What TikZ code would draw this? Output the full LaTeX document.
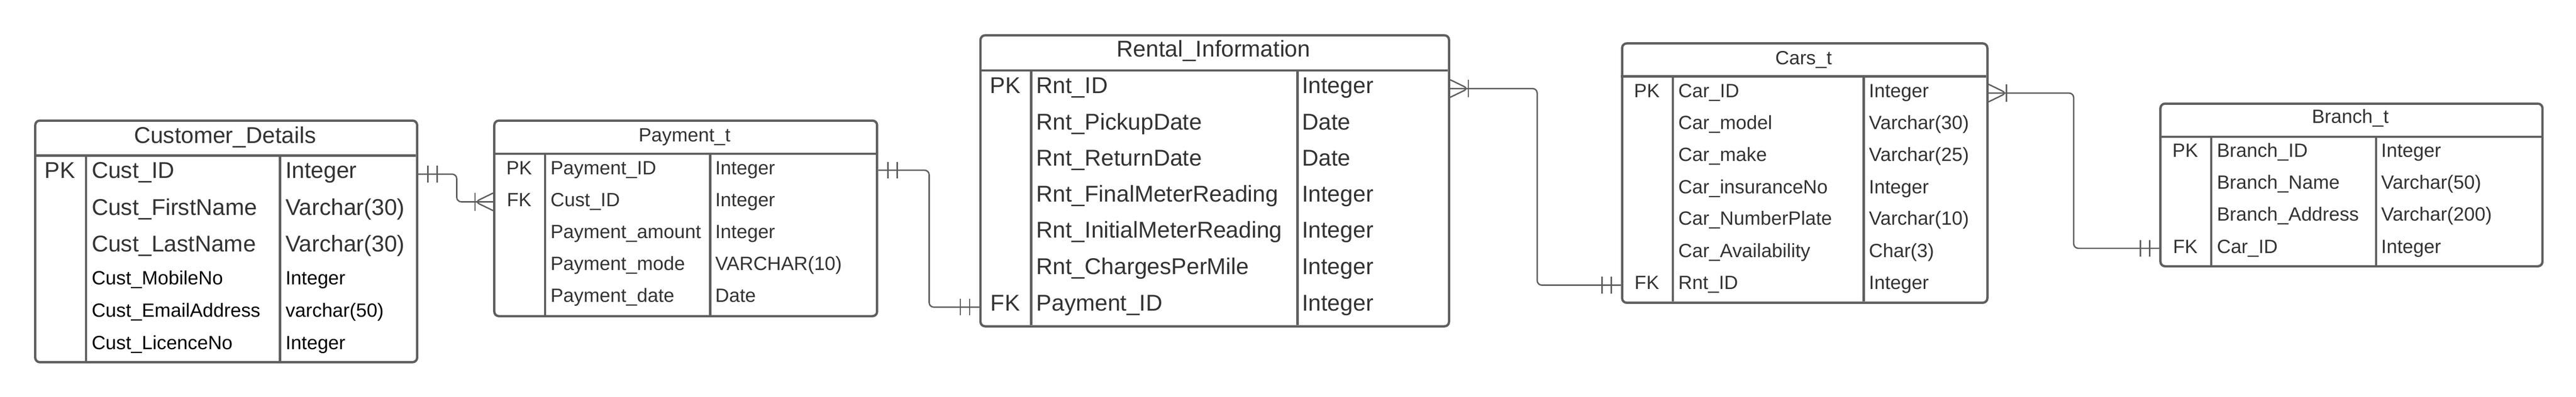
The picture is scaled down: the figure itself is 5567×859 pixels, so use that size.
\documentclass[tikz,border=0pt]{standalone}
\usepackage{fontspec}
\setmainfont{Liberation Sans}
\usetikzlibrary{calc}
\definecolor{ln}{HTML}{5E5E5E}
\definecolor{tx}{HTML}{333333}
\newcommand\crowfootIn[2]{% #1 coord, #2 direction (+1: box to the right of coord, -1: box to the left)
  \draw[conn] ($(#1)+(0,-19)$) -- ($(#1)+(#2*-39,0)$) -- ($(#1)+(0,19)$);
  \draw[conn] ($(#1)+(#2*-39,-19)$) -- ($(#1)+(#2*-39,19)$);}
\newcommand\twobars[2]{%
  \draw[conn] ($(#1)+(#2*-21,-18)$) -- ($(#1)+(#2*-21,18)$);
  \draw[conn] ($(#1)+(#2*-41,-18)$) -- ($(#1)+(#2*-41,18)$);}
\begin{document}
\begin{tikzpicture}[x=1pt,y=-1pt,
  tbl/.style={draw=ln,line width=5pt,rounded corners=10pt,fill=white,inner sep=0pt,anchor=north west},
  sep/.style={draw=ln,line width=5pt},
  conn/.style={draw=ln,line width=3pt,rounded corners=10pt},
  big/.style={font=\fontsize{49.5}{50}\selectfont,text=tx,inner sep=0pt},
  small/.style={font=\fontsize{41.5}{42}\selectfont,text=tx,inner sep=0pt},
  fld/.style={anchor=base west},
  ttl/.style={anchor=base},
  key/.style={anchor=base}]
\useasboundingbox (0,0) rectangle (5567,859);
\fill[white] (0,0) rectangle (5567,859);

% ---------------- Customer_Details
\node[tbl,minimum width=825.4pt,minimum height=523.1pt] (cust) at (73.6,258.6) {};
\draw[sep] (73.6,337) -- (899,337);
\draw[sep] (186,337) -- (186,781.7);
\draw[sep] (605,337) -- (605,781.7);
\node[big,ttl] (custT) at (486.3,309.6) {Customer\_Details};
\node[big,key] (custK1) at (129.8,386) {PK};
\node[big,fld] (custF1) at (198,386) {Cust\_ID};
\node[big,fld] (custT1) at (617,386) {Integer};
\node[big,fld] (custF2) at (198,465.6) {Cust\_FirstName};
\node[big,fld] (custT2) at (617,465.6) {Varchar(30)};
\node[big,fld] (custF3) at (198,545) {Cust\_LastName};
\node[big,fld] (custT3) at (617,545) {Varchar(30)};
\node[small,fld,text=black] (custF4) at (198,616) {Cust\_MobileNo};
\node[small,fld,text=black] (custT4) at (617,616) {Integer};
\node[small,fld,text=black] (custF5) at (198,686) {Cust\_EmailAddress};
\node[small,fld,text=black] (custT5) at (617,686) {varchar(50)};
\node[small,fld,text=black] (custF6) at (198,756) {Cust\_LicenceNo};
\node[small,fld,text=black] (custT6) at (617,756) {Integer};

% ---------------- Payment_t
\node[tbl,minimum width=827.3pt,minimum height=423.4pt] (pay) at (1065.7,258.6) {};
\draw[sep] (1065.7,333) -- (1893,333);
\draw[sep] (1178,333) -- (1178,682);
\draw[sep] (1534.7,333) -- (1534.7,682);
\node[small,ttl] (payT) at (1479.3,306.8) {Payment\_t};
\node[small,key] (payK1) at (1121.9,378) {PK};
\node[small,key] (payK2) at (1121.9,446.5) {FK};
\node[small,fld] (payF1) at (1189.6,378) {Payment\_ID};
\node[small,fld] (payT1) at (1545.6,378) {Integer};
\node[small,fld] (payF2) at (1189.6,446.5) {Cust\_ID};
\node[small,fld] (payT2) at (1545.6,446.5) {Integer};
\node[small,fld] (payF3) at (1189.6,516) {Payment\_amount};
\node[small,fld] (payT3) at (1545.6,516) {Integer};
\node[small,fld] (payF4) at (1189.6,585) {Payment\_mode};
\node[small,fld] (payT4) at (1545.6,585) {VARCHAR(10)};
\node[small,fld] (payF5) at (1189.6,654.6) {Payment\_date};
\node[small,fld] (payT5) at (1545.6,654.6) {Date};

% ---------------- Rental_Information
\node[tbl,minimum width=1012.6pt,minimum height=630pt] (rnt) at (2116.4,74) {};
\draw[sep] (2116.4,152.3) -- (3129,152.3);
\draw[sep] (2228.7,152.3) -- (2228.7,704);
\draw[sep] (2804,152.3) -- (2804,704);
\node[big,ttl] (rntT) at (2622.7,123) {Rental\_Information};
\node[big,key] (rntK1) at (2172.5,201.6) {PK};
\node[big,key] (rntK2) at (2172.5,672.7) {FK};
\node[big,fld] (rntF1) at (2239.7,201.6) {Rnt\_ID};
\node[big,fld] (rntT1) at (2813.8,201.6) {Integer};
\node[big,fld] (rntF2) at (2239.7,281) {Rnt\_PickupDate};
\node[big,fld] (rntT2) at (2813.8,281) {Date};
\node[big,fld] (rntF3) at (2239.7,358.8) {Rnt\_ReturnDate};
\node[big,fld] (rntT3) at (2813.8,358.8) {Date};
\node[big,fld] (rntF4) at (2239.7,436.6) {Rnt\_FinalMeterReading};
\node[big,fld] (rntT4) at (2813.8,436.6) {Integer};
\node[big,fld] (rntF5) at (2239.7,515) {Rnt\_InitialMeterReading};
\node[big,fld] (rntT5) at (2813.8,515) {Integer};
\node[big,fld] (rntF6) at (2239.7,594.4) {Rnt\_ChargesPerMile};
\node[big,fld] (rntT6) at (2813.8,594.4) {Integer};
\node[big,fld] (rntF7) at (2239.7,672.7) {Payment\_ID};
\node[big,fld] (rntT7) at (2813.8,672.7) {Integer};

% ---------------- Cars_t
\node[tbl,minimum width=789.4pt,minimum height=561.5pt] (cars) at (3503,91.5) {};
\draw[sep] (3503,165.4) -- (4292.4,165.4);
\draw[sep] (3615,165.4) -- (3615,653);
\draw[sep] (4027.8,165.4) -- (4027.8,653);
\node[small,ttl] (carsT) at (3897.7,139.7) {Cars\_t};
\node[small,key] (carsK1) at (3559,211) {PK};
\node[small,key] (carsK2) at (3559,626) {FK};
\node[small,fld] (carsF1) at (3626.8,211) {Car\_ID};
\node[small,fld] (carsT1) at (4038.8,211) {Integer};
\node[small,fld] (carsF2) at (3626.8,280.5) {Car\_model};
\node[small,fld] (carsT2) at (4038.8,280.5) {Varchar(30)};
\node[small,fld] (carsF3) at (3626.8,349) {Car\_make};
\node[small,fld] (carsT3) at (4038.8,349) {Varchar(25)};
\node[small,fld] (carsF4) at (3626.8,419) {Car\_insuranceNo};
\node[small,fld] (carsT4) at (4038.8,419) {Integer};
\node[small,fld] (carsF5) at (3626.8,487.6) {Car\_NumberPlate};
\node[small,fld] (carsT5) at (4038.8,487.6) {Varchar(10)};
\node[small,fld] (carsF6) at (3626.8,557) {Car\_Availability};
\node[small,fld] (carsT6) at (4038.8,557) {Char(3)};
\node[small,fld] (carsF7) at (3626.8,626) {Rnt\_ID};
\node[small,fld] (carsT7) at (4038.8,626) {Integer};

% ---------------- Branch_t
\node[tbl,minimum width=825.6pt,minimum height=352.1pt] (br) at (4666.4,221.9) {};
\draw[sep] (4666.4,296.4) -- (5492,296.4);
\draw[sep] (4778.7,296.4) -- (4778.7,574);
\draw[sep] (5134.8,296.4) -- (5134.8,574);
\node[small,ttl] (brT) at (5079.2,267) {Branch\_t};
\node[small,key] (brK1) at (4722.5,339.6) {PK};
\node[small,key] (brK2) at (4722.5,547.8) {FK};
\node[small,fld] (brF1) at (4790.8,339.6) {Branch\_ID};
\node[small,fld] (brT1) at (5145.8,339.6) {Integer};
\node[small,fld] (brF2) at (4790.8,409) {Branch\_Name};
\node[small,fld] (brT2) at (5145.8,409) {Varchar(50)};
\node[small,fld] (brF3) at (4790.8,478) {Branch\_Address};
\node[small,fld] (brT3) at (5145.8,478) {Varchar(200)};
\node[small,fld] (brF4) at (4790.8,547.8) {Car\_ID};
\node[small,fld] (brT4) at (5145.8,547.8) {Integer};

% ---------------- connectors
\coordinate (c1a) at (cust.east |- 0,377);
\coordinate (c1b) at (pay.west |- 0,437);
\draw[conn] (c1a) -- ++(83,0) |- (c1b);
\twobars{c1a}{-1}
\crowfootIn{c1b}{1}

\coordinate (c2a) at (pay.east |- 0,368.5);
\coordinate (c2b) at (rnt.west |- 0,665);
\draw[conn] (c2a) -- ++(110,0) |- (c2b);
\twobars{c2a}{-1}
\twobars{c2b}{1}

\coordinate (c3a) at (rnt.east |- 0,191.7);
\coordinate (c3b) at (cars.west |- 0,617.4);
\draw[conn] (c3a) -- ++(188,0) |- (c3b);
\crowfootIn{c3a}{-1}
\twobars{c3b}{1}

\coordinate (c4a) at (cars.east |- 0,201.5);
\coordinate (c4b) at (br.west |- 0,537.6);
\draw[conn] (c4a) -- ++(184,0) |- (c4b);
\crowfootIn{c4a}{-1}
\twobars{c4b}{1}
\end{tikzpicture}
\end{document}
